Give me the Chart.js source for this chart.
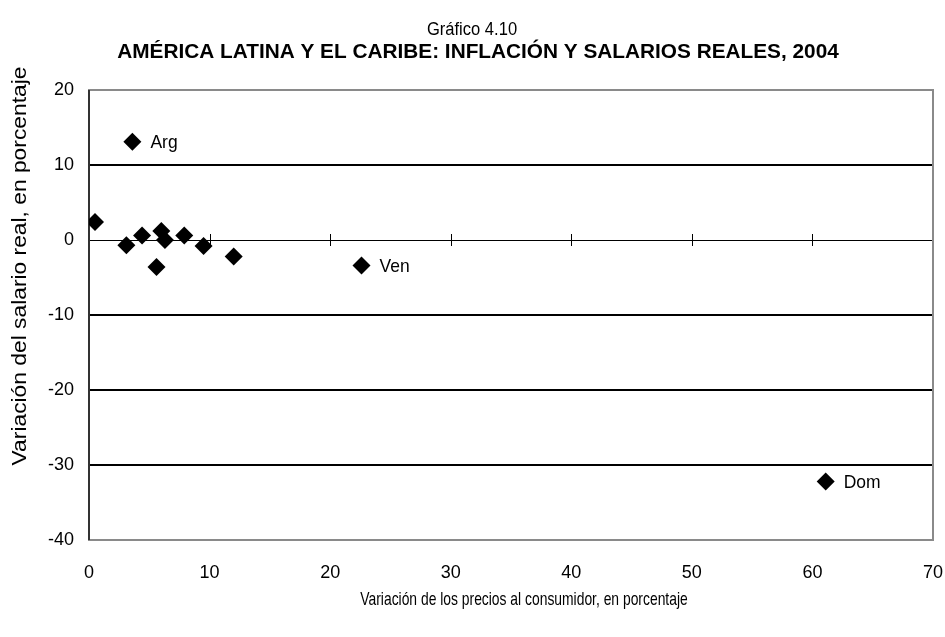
<!DOCTYPE html>
<html>
<head>
<meta charset="utf-8">
<script src="https://cdn.jsdelivr.net/npm/chart.js@4/dist/chart.umd.min.js"></script>
<style>
  html, body { margin: 0; padding: 0; background: #fff; }
  #wrap { position: relative; width: 945px; height: 637px; }
</style>
</head>
<body>
<div id="wrap"><canvas id="c" width="945" height="637"></canvas></div>
<script>
// Consumer price change (x) and real wage change (y), 2004, per country
const inflation  = [3.6, 0.5, 3.1, 4.4, 5.6, 6.0, 6.3, 7.9, 9.5, 12.0, 22.6, 61.1];
const realWages  = [13.1, 2.4, -0.7, 0.6, -3.6, 1.2, 0.0, 0.6, -0.8, -2.2, -3.4, -32.2];
const pointNames = ["Arg", "", "", "", "", "", "", "", "", "", "Ven", "Dom"];

const xTicks = [0, 10, 20, 30, 40, 50, 60, 70];
const yTicks = [20, 10, 0, -10, -20, -30, -40];

const titleText = "Gráfico 4.10";
const subtitleText = "AMÉRICA LATINA Y EL CARIBE: INFLACIÓN Y SALARIOS REALES, 2004";
const xTitle = "Variación de los precios al consumidor, en porcentaje";
const yTitle = "Variación del salario real, en porcentaje";

const FONT = "'Liberation Sans', Arial, sans-serif";

const points = inflation.map((x, i) => ({ x: x, y: realWages[i] }));

// draws text squeezed horizontally to imitate a condensed face
function condensedText(ctx, text, x, y, sx) {
  ctx.save();
  ctx.translate(x, y);
  ctx.scale(sx, 1);
  ctx.fillText(text, 0, 0);
  ctx.restore();
}

const decorPlugin = {
  id: 'decor',
  beforeDatasetsDraw(chart) {
    const { ctx, chartArea: a, scales } = chart;
    const xs = scales.x, ys = scales.y;
    ctx.save();
    // plot frame
    ctx.strokeStyle = '#8a8a8a';
    ctx.lineWidth = 2;
    ctx.strokeRect(a.left, a.top, a.right - a.left, a.bottom - a.top);
    ctx.strokeStyle = '#333';
    ctx.beginPath();
    ctx.moveTo(a.left, a.top); ctx.lineTo(a.left, a.bottom);
    ctx.stroke();
    // tick marks crossing the zero line
    const y0 = ys.getPixelForValue(0);
    ctx.strokeStyle = '#000';
    ctx.lineWidth = 1;
    xTicks.forEach(v => {
      if (v === 0 || v === 70) return;
      const px = Math.round(xs.getPixelForValue(v)) + 0.5;
      ctx.beginPath();
      ctx.moveTo(px, y0 - 6); ctx.lineTo(px, y0 + 6);
      ctx.stroke();
    });
    ctx.restore();
  },
  afterDraw(chart) {
    const { ctx } = chart;
    const meta = chart.getDatasetMeta(0);
    ctx.save();
    ctx.fillStyle = '#000';
    // point labels
    ctx.font = "19px " + FONT;
    ctx.textAlign = 'left';
    ctx.textBaseline = 'middle';
    meta.data.forEach((el, i) => {
      if (pointNames[i]) condensedText(ctx, pointNames[i], el.x + 18, el.y + 1, 0.92);
    });
    // titles
    ctx.textAlign = 'center';
    ctx.font = "18px " + FONT;
    condensedText(ctx, titleText, 472, 30, 0.92);
    ctx.font = "bold 21px " + FONT;
    condensedText(ctx, subtitleText, 478, 52, 0.99);
    // axis titles
    ctx.font = "19px " + FONT;
    condensedText(ctx, xTitle, 524, 600, 0.73);
    ctx.font = "20px " + FONT;
    ctx.translate(20, 266);
    ctx.rotate(-Math.PI / 2);
    condensedText(ctx, yTitle, 0, 0, 1.14);
    ctx.restore();
  }
};

new Chart(document.getElementById('c'), {
  type: 'scatter',
  data: {
    datasets: [{
      data: points,
      pointStyle: 'rectRot',
      pointRadius: 9,
      pointHoverRadius: 9,
      backgroundColor: '#000',
      borderColor: '#000',
      borderWidth: 0
    }]
  },
  options: {
    responsive: false,
    animation: false,
    events: [],
    layout: { padding: { top: 90, right: 12, left: 0, bottom: 0 } },
    plugins: { legend: { display: false }, tooltip: { enabled: false }, title: { display: false } },
    scales: {
      x: {
        type: 'linear', min: 0, max: 70,
        afterBuildTicks(s) { s.ticks = xTicks.map(v => ({ value: v })); },
        afterFit(s) { s.height = 97; s.paddingLeft = 0; s.paddingRight = 0; },
        grid: { display: false, drawTicks: false },
        border: { display: false },
        ticks: { padding: 22, color: '#000', font: { family: FONT, size: 18 }, maxRotation: 0 }
      },
      y: {
        type: 'linear', min: -40, max: 20,
        afterBuildTicks(s) { s.ticks = yTicks.map(v => ({ value: v })); },
        afterFit(s) { s.width = 89; s.paddingTop = 0; s.paddingBottom = 0; },
        grid: {
          drawTicks: false,
          color: c => (c.tick && (c.tick.value === 20 || c.tick.value === -40)) ? 'rgba(0,0,0,0)' : '#000',
          lineWidth: c => (c.tick && c.tick.value === 0) ? 1 : 2
        },
        border: { display: false },
        ticks: { padding: 15, color: '#000', font: { family: FONT, size: 18 } }
      }
    }
  },
  plugins: [decorPlugin]
});
</script>
</body>
</html>
